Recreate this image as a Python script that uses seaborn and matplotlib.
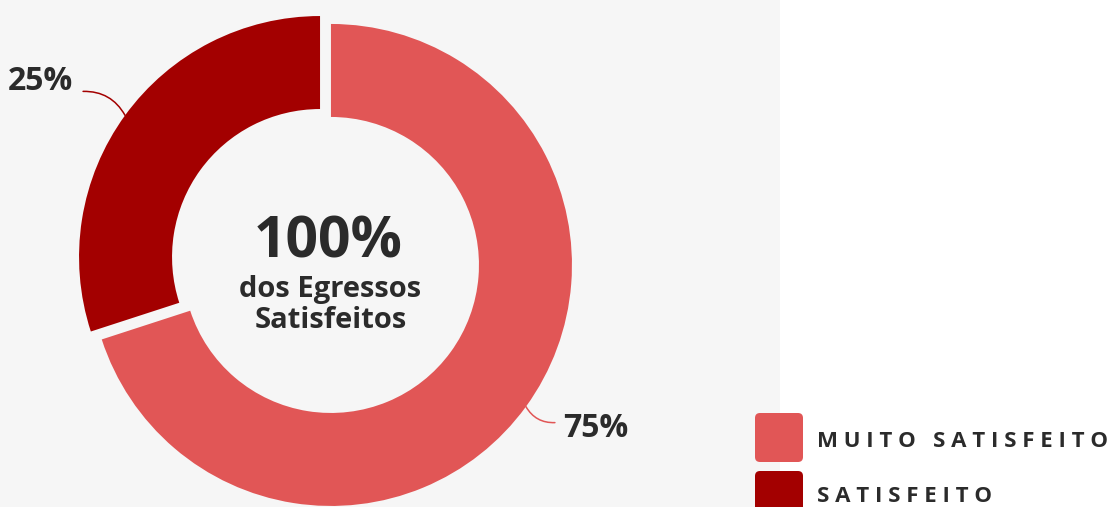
import numpy as np
import matplotlib
matplotlib.use("Agg")
import matplotlib.pyplot as plt
import matplotlib.patches as mpatches
import seaborn as sns

# dados
categorias = ["MUITO SATISFEITO", "SATISFEITO"]
fatias = [70, 30]            # tamanho das fatias como desenhadas
rotulos = ["75%", "25%"]     # texto mostrado ao lado de cada fatia
cores = ["#E15656", "#A30000"]
titulo_centro = "100%"
subtitulo_centro = "dos Egressos\nSatisfeitos"

sns.set_theme(style="white")
plt.rcParams["font.family"] = ["Open Sans", "DejaVu Sans"]
plt.rcParams["font.weight"] = "bold"

W, H = 1110, 507
fig = plt.figure(figsize=(W / 100, H / 100), dpi=100)
fig.patch.set_facecolor("white")

# area cinza do grafico (px)
ax_w = 780
ax = fig.add_axes([0, 0, ax_w / W, 1])
raio_px = 241
cx_px, cy_px = 325.5, 246

paleta = sns.color_palette(cores)
wedges, _ = ax.pie(fatias, colors=paleta, startangle=90, counterclock=False,
                   radius=1, explode=[0.028, 0.028],
                   wedgeprops=dict(width=93 / raio_px, linewidth=0))

ax.set_xlim(-cx_px / raio_px, (ax_w - cx_px) / raio_px)
ax.set_ylim(-cy_px / raio_px, (H - cy_px) / raio_px)
ax.set_aspect("equal")
ax.set_frame_on(True)
ax.set_facecolor("#F6F6F6")
for s in ax.spines.values():
    s.set_visible(False)
ax.set_xticks([])
ax.set_yticks([])

# texto central
ax.text(0.01, 0.077, titulo_centro, ha="center", va="center", fontsize=41,
        fontweight="bold", color="#2B2B2B")
ax.text(0.02, -0.183, subtitulo_centro, ha="center", va="center", fontsize=21,
        fontweight="bold", color="#2B2B2B", linespacing=1.08)

# rotulos com linha guia
offsets_txt = [(70, -22), (-85, 34)]
offsets_lin = [(29, -16), (-42, 24)]
for w, rot, cor, ot, ol in zip(wedges, rotulos, paleta, offsets_txt, offsets_lin):
    tm = np.deg2rad((w.theta1 + w.theta2) / 2)
    ancora = (w.center[0] + w.r * np.cos(tm), w.center[1] + w.r * np.sin(tm))
    ax.annotate("", xy=ancora, xytext=ol, textcoords="offset pixels",
                arrowprops=dict(arrowstyle="-", color=cor, lw=1.1,
                                shrinkA=0, shrinkB=0,
                                connectionstyle="arc3,rad=-0.3"))
    ax.annotate(rot, xy=ancora, xytext=ot, textcoords="offset pixels",
                ha="center", va="center", fontsize=23, fontweight="bold",
                color="#2B2B2B")

# legenda (quadrados arredondados + texto espaçado)
for i, (cat, cor) in enumerate(zip(categorias, paleta)):
    caixa = mpatches.FancyBboxPatch((7.55, 0.45 - i * 0.58), 0.48, 0.49,
                                    boxstyle="round,pad=0,rounding_size=0.05",
                                    transform=fig.dpi_scale_trans,
                                    facecolor=cor, edgecolor="none")
    fig.patches.append(caixa)
    espacado = "   ".join(" ".join(p) for p in cat.split(" "))
    fig.text(8.17, 0.60 - i * 0.55, espacado, transform=fig.dpi_scale_trans,
             ha="left", va="baseline", fontsize=16, fontweight="bold",
             color="#2B2B2B")

fig.savefig("out.png", dpi=100)
